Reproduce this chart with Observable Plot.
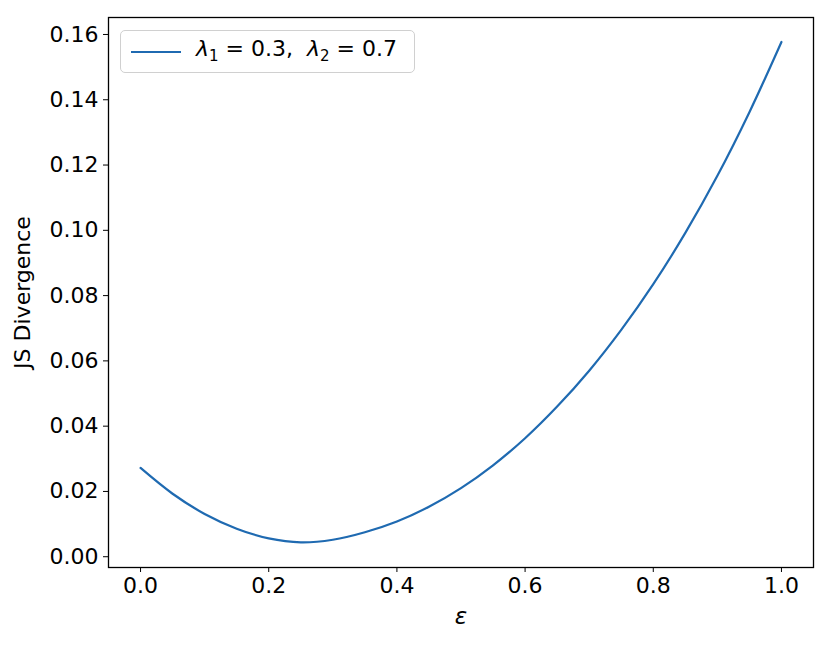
<!DOCTYPE html>
<html>
<head>
<meta charset="utf-8">
<script src="https://cdn.jsdelivr.net/npm/d3@7"></script>
<script src="https://cdn.jsdelivr.net/npm/@observablehq/plot@0.6"></script>
<style>
  body { margin: 0; background: #fff; }
  #wrap { position: relative; width: 831px; height: 645px; font-family: "DejaVu Sans", sans-serif; }
  #legend {
    position: absolute; left: 120px; top: 30px; width: 295px; height: 43px;
    border: 1.3px solid #d0d0d0; border-radius: 5px; background: rgba(255,255,255,0.8);
    box-sizing: border-box;
  }
  #legend .ln { position: absolute; left: 10px; top: 20px; width: 50px; height: 0; border-top: 2.2px solid #1f6ab1; }
  #legend .tx { position: absolute; left: 75px; top: 5px; font-size: 22px; color: #000; white-space: nowrap; font-family: "DejaVu Sans", sans-serif; }
  #legend sub { font-size: 15px; vertical-align: -5px; line-height: 0; }
</style>
</head>
<body>
<div id="wrap">
  <div id="chart"></div>
  <div id="legend"><div class="ln"></div><div class="tx"><i>λ</i><sub>1</sub> = 0.3,&nbsp; <i>λ</i><sub>2</sub> = 0.7</div></div>
</div>
<script>
const epsilon = [0.0, 0.05, 0.1, 0.15, 0.2, 0.25, 0.3, 0.35, 0.4, 0.45, 0.5, 0.55, 0.6, 0.65, 0.7, 0.75, 0.8, 0.85, 0.9, 0.95, 1.0];
const jsDivergence = [0.0272, 0.0193, 0.0131, 0.0086, 0.0056, 0.0044, 0.0052, 0.0075, 0.0108, 0.0153, 0.0210, 0.0280, 0.0363, 0.0460, 0.0570, 0.0695, 0.0835, 0.0992, 0.1167, 0.1362, 0.1577];
const xTicks = [0, 0.2, 0.4, 0.6, 0.8, 1.0];
const yTicks = [0, 0.02, 0.04, 0.06, 0.08, 0.10, 0.12, 0.14, 0.16];

const data = epsilon.map((e, i) => ({eps: e, js: jsDivergence[i]}));

const chart = Plot.plot({
  width: 831,
  height: 645,
  marginLeft: 108,
  marginRight: 18,
  marginTop: 17,
  marginBottom: 78,
  style: {fontSize: "22px", fontFamily: "DejaVu Sans, sans-serif", color: "#000", background: "#fff"},
  x: {domain: [-0.05, 1.05]},
  y: {domain: [-0.0033, 0.1652]},
  marks: [
    Plot.frame({stroke: "#000", strokeWidth: 1.3}),
    Plot.axisX({ticks: xTicks, tickFormat: d3.format(".1f"), tickSize: 5, tickPadding: 5, label: null, fontSize: 22}),
    Plot.axisY({ticks: yTicks, tickFormat: d3.format(".2f"), tickSize: 5, tickPadding: 5, label: null, fontSize: 22}),
    Plot.text(["JS Divergence"], {frameAnchor: "left", textAnchor: "middle", dx: -86, rotate: -90, fontSize: 22, text: d => d}),
    Plot.text(["ε"], {frameAnchor: "bottom", textAnchor: "middle", dy: 56, fontSize: 23, fontStyle: "italic", text: d => d}),
    Plot.line(data, {x: "eps", y: "js", stroke: "#1f6ab1", strokeWidth: 2.2, curve: "catmull-rom"})
  ]
});
document.getElementById("chart").appendChild(chart);
</script>
</body>
</html>
